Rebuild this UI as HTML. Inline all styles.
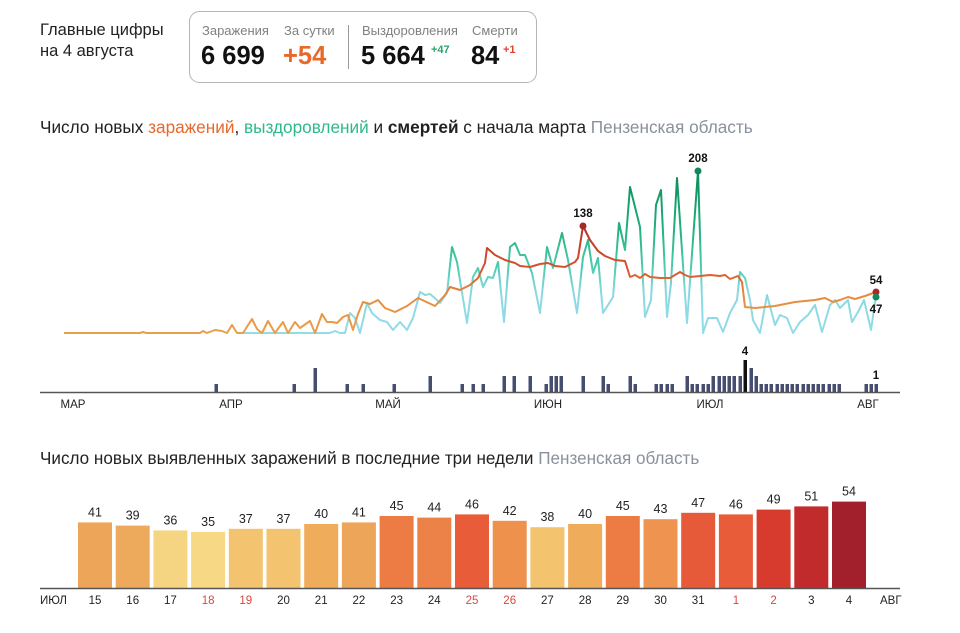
<!DOCTYPE html>
<html><head><meta charset="utf-8"><style>
body{margin:0;background:#fff;width:960px;height:628px;overflow:hidden;font-family:"Liberation Sans","DejaVu Sans",sans-serif}
</style></head><body>
<svg width="960" height="628" viewBox="0 0 960 628" xmlns="http://www.w3.org/2000/svg" font-family="Liberation Sans, DejaVu Sans, sans-serif">
<defs>
<linearGradient id="gi" gradientUnits="userSpaceOnUse" x1="0" y1="333" x2="0" y2="220">
<stop offset="0" stop-color="#e9a04a"/><stop offset="0.35" stop-color="#e58a3a"/><stop offset="0.55" stop-color="#d9562e"/><stop offset="1" stop-color="#b0282a"/></linearGradient>
<linearGradient id="gr" gradientUnits="userSpaceOnUse" x1="0" y1="333" x2="0" y2="171">
<stop offset="0" stop-color="#92dce8"/><stop offset="0.25" stop-color="#8ad8e2"/><stop offset="0.4" stop-color="#4fcdb0"/><stop offset="0.65" stop-color="#20b07c"/><stop offset="1" stop-color="#0e8a58"/></linearGradient>
</defs>
<!-- header -->
<text x="40" y="35" font-size="16.5" fill="#222">Главные цифры</text>
<text x="40" y="56" font-size="16.5" fill="#222">на 4 августа</text>
<rect x="189.5" y="11.5" width="347" height="71" rx="10" fill="none" stroke="#b5b5b5"/>
<g font-size="13" fill="#808080">
<text x="202" y="35">Заражения</text><text x="284" y="35">За сутки</text>
<text x="362" y="35">Выздоровления</text><text x="472" y="35">Смерти</text></g>
<line x1="348.5" y1="25" x2="348.5" y2="69" stroke="#999"/>
<g font-size="25.5" font-weight="bold">
<text x="201" y="64" fill="#111">6 699</text><text x="283" y="64" fill="#e8692c">+54</text>
<text x="361" y="64" fill="#111">5 664</text><text x="471" y="64" fill="#111">84</text></g>
<text x="431" y="53" font-size="11" font-weight="bold" fill="#2aa56a">+47</text>
<text x="503" y="53" font-size="11" font-weight="bold" fill="#e2402f">+1</text>
<!-- title 1 -->
<text x="40" y="133" font-size="17.2" fill="#222">Число новых <tspan fill="#e8692c">заражений</tspan>, <tspan fill="#2fb98a">выздоровлений</tspan> и <tspan font-weight="bold">смертей</tspan> с начала марта <tspan fill="#8a909c">Пензенская область</tspan></text>
<!-- lines -->
<polyline fill="none" stroke="url(#gr)" stroke-width="2" stroke-linejoin="round" points="240,333 330,333 335,331 340,333 345,333 350,313 355,318 360,333 367,303 372,313 380,320 387,322 393,330 400,322 407,330 413,318 420,292 425,295 430,294 437,300 440,303 447,293 452,247 457,262 467,323 473,277 478,268 483,287 488,277 493,278 498,262 504,322 510,247 515,243 520,255 525,255 532,273 540,313 547,247 553,268 562,233 568,260 577,313 583,257 588,240 593,273 598,258 603,313 613,297 619,223 625,250 630,187 640,227 645,317 651,300 656,205 661,190 667,317 671,283 677,178 687,323 698,171 703,333 708,318 717,318 723,332 730,313 737,300 740,272 745,278 750,300 753,320 760,333 767,295 775,325 780,315 787,318 793,333 800,322 808,315 815,305 822,332 830,305 835,300 840,308 848,300 852,322 858,312 864,300 871,330 876,296"/>
<polyline fill="none" stroke="url(#gi)" stroke-width="2" stroke-linejoin="round" points="64,333 140,333 143,332 146,333 200,333 203,331 207,333 215,330 222,331 227,333 232,325 237,333 243,333 252,319 257,329 262,333 268,321 275,333 283,322 288,333 295,322 300,328 310,321 315,333 322,314 327,322 332,322 337,323 343,317 348,315 353,330 358,314 363,302 370,304 378,300 385,308 395,312 407,306 418,298 435,306 445,295 450,287 460,290 470,285 478,278 485,263 487,248 495,255 505,260 515,263 520,266 530,267 540,264 548,263 555,266 565,267 575,262 578,258 583,226 590,240 598,251 605,256 615,260 625,261 630,277 635,275 640,278 645,274 650,277 660,278 670,278 680,272 685,275 690,277 700,276 710,275 720,276 725,275 730,279 738,276 742,282 745,307 755,308 765,307 775,306 785,304 795,302 805,301 815,300 825,298 833,302 840,300 848,297 855,299 865,296 876,292"/>
<circle cx="583" cy="226" r="3.5" fill="#a8282a"/><circle cx="698" cy="171" r="3.5" fill="#14875a"/>
<circle cx="876" cy="292" r="3.5" fill="#a8282a"/><circle cx="876" cy="297" r="3.5" fill="#14875a"/>
<g font-size="11.5" font-weight="bold" fill="#111" text-anchor="middle">
<text x="583" y="217">138</text><text x="698" y="162">208</text><text x="876" y="284">54</text><text x="876" y="313">47</text>
<text x="745" y="355">4</text><text x="876" y="379">1</text></g>
<!-- death bars -->
<g fill="#474d6e" id="db"></g>
<line x1="40" y1="392.5" x2="900" y2="392.5" stroke="#555" stroke-width="1.5"/>
<g font-size="11.5" fill="#222" text-anchor="middle">
<text x="73" y="408">МАР</text><text x="231" y="408">АПР</text><text x="388" y="408">МАЙ</text><text x="548" y="408">ИЮН</text><text x="710" y="408">ИЮЛ</text><text x="868" y="408">АВГ</text></g>
<!-- title 2 -->
<text x="40" y="464" font-size="17.1" fill="#222">Число новых выявленных заражений в последние три недели <tspan fill="#8a909c">Пензенская область</tspan></text>
<g id="bb"></g>
<line x1="40" y1="588.5" x2="900" y2="588.5" stroke="#555" stroke-width="1.5"/>
<text x="40" y="604" font-size="11.5" fill="#222">ИЮЛ</text>
<text x="880" y="604" font-size="11.5" fill="#222">АВГ</text>
</svg>
<script>
var NS="http://www.w3.org/2000/svg";
var d=[[216,1],[294,1],[315,3],[347,1],[363,1],[394,1],[430,2],[462,1],[473,1],[483,1],[504,2],[514,2],[530,2],[546,1],[551,2],[556,2],[561,2],[583,2],[603,2],[608,1],[630,2],[635,1],[656,1],[661,1],[667,1],[672,1],[687,2],[692,1],[697,1],[703,1],[708,1],[713,2],[719,2],[724,2],[729,2],[734,2],[740,2],[745,4],[751,3],[756,2],[866,1],[871,1],[876,1]];
for(var x=761;x<=842;x+=5.2)d.push([Math.round(x),1]);
var g=document.getElementById("db");
d.forEach(function(b){var r=document.createElementNS(NS,"rect");r.setAttribute("x",b[0]-1.5);r.setAttribute("width",3.5);r.setAttribute("y",392-b[1]*8);r.setAttribute("height",b[1]*8);if(b[1]==4)r.setAttribute("fill","#111");g.appendChild(r);});
var vals=[41,39,36,35,37,37,40,41,45,44,46,42,38,40,45,43,47,46,49,51,54];
var days=[15,16,17,18,19,20,21,22,23,24,25,26,27,28,29,30,31,1,2,3,4];
var red={18:1,19:1,25:1,26:1};
var col={35:"#f6d885",36:"#f6d582",37:"#f3c36f",38:"#f3c36e",39:"#eeaa5c",40:"#efac5b",41:"#eda55a",42:"#ed914d",43:"#ee9350",44:"#ed8248",45:"#ec7c44",46:"#e85c3a",47:"#e65a3a",49:"#d63b2e",51:"#c22b2b",54:"#a21f2c"};
var bb=document.getElementById("bb");
vals.forEach(function(v,i){var cx=95+i*37.7,h=v*1.6;
var r=document.createElementNS(NS,"rect");r.setAttribute("x",cx-17);r.setAttribute("width",34);r.setAttribute("y",588-h);r.setAttribute("height",h);r.setAttribute("fill",col[v]);bb.appendChild(r);
var t=document.createElementNS(NS,"text");t.setAttribute("x",cx);t.setAttribute("y",588-h-6);t.setAttribute("font-size","12.5");t.setAttribute("text-anchor","middle");t.setAttribute("fill","#222");t.textContent=v;bb.appendChild(t);
var l=document.createElementNS(NS,"text");l.setAttribute("x",cx);l.setAttribute("y",604);l.setAttribute("font-size","11.5");l.setAttribute("text-anchor","middle");l.setAttribute("fill",(i>=17&&(days[i]==1||days[i]==2))||(i<17&&red[days[i]])?"#d9473f":"#222");l.textContent=days[i];bb.appendChild(l);});
</script>
</body></html>
